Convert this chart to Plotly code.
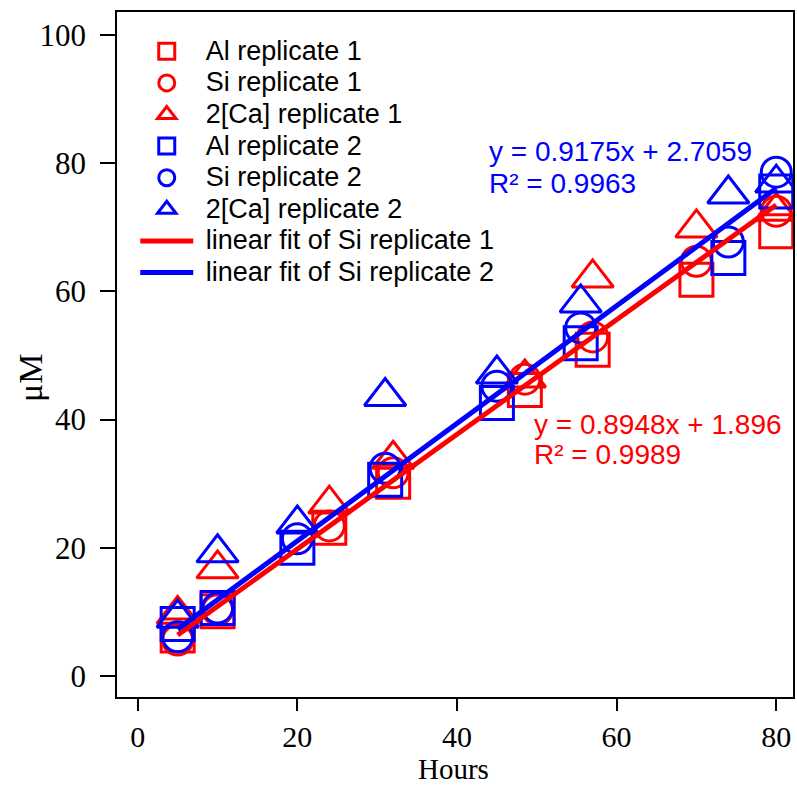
import plotly.graph_objects as go

# Replicate 1 (red)
x_r1 = [5, 10, 24, 32, 48.5, 57, 70, 80]
al_r1 = [6.3, 10.1, 23.1, 30.3, 44.6, 50.9, 61.8, 69.4]
si_r1 = [5.6, 10.3, 23.4, 31.7, 46.3, 52.9, 64.7, 72.5]
ca_r1 = [9.6, 16.7, 26.8, 33.8, 46.5, 62.1, 69.9, 72.5]

# Replicate 2 (blue)
x_r2 = [5, 10, 20, 31, 45, 55.5, 74, 80]
al_r2 = [8.1, 10.6, 20.0, 30.6, 42.6, 51.9, 65.2, 75.6]
si_r2 = [6.1, 10.6, 21.4, 32.4, 45.2, 54.3, 67.7, 78.6]
ca_r2 = [9.0, 19.2, 23.7, 43.6, 47.1, 58.2, 75.2, 76.9]

# Linear fits (slope, intercept, R2)
fit_r1 = (0.8948, 1.896, 0.9989)
fit_r2 = (0.9175, 2.7059, 0.9963)
fit_x = [5, 80]

x_title = "Hours"
y_title = "μM"

RED = "#FF0000"
BLUE = "#0000FF"
SANS = "Liberation Sans, Arial, sans-serif"
SERIF = "Liberation Serif, Times New Roman, serif"
LEG_SIZE = 27

def leg(name):
    return f'<span style="font-size:{LEG_SIZE}px">\u00a0{name}</span>'

fig = go.Figure()

def add_markers(x, y, name, color, symbol, size):
    fig.add_trace(go.Scatter(
        x=x, y=y, mode="markers", name=leg(name),
        marker=dict(symbol=symbol, size=size, color="rgba(0,0,0,0)",
                    line=dict(color=color, width=3)),
    ))

add_markers(x_r1, al_r1, "Al replicate 1", RED, "square", 33)
add_markers(x_r1, si_r1, "Si replicate 1", RED, "circle", 30)
add_markers(x_r1, ca_r1, "2[Ca] replicate 1", RED, "triangle-up", 36)
add_markers(x_r2, al_r2, "Al replicate 2", BLUE, "square", 33)
add_markers(x_r2, si_r2, "Si replicate 2", BLUE, "circle", 30)
add_markers(x_r2, ca_r2, "2[Ca] replicate 2", BLUE, "triangle-up", 36)

for fit, color, name in [(fit_r1, RED, "linear fit of Si replicate 1"),
                         (fit_r2, BLUE, "linear fit of Si replicate 2")]:
    m, b, _ = fit
    fig.add_trace(go.Scatter(
        x=fit_x, y=[m * v + b for v in fit_x], mode="lines", name=leg(name),
        line=dict(color=color, width=5),
    ))

def eq_annot(x, y1, y2, fit, color):
    lines = [f"y = {fit[0]}x + {fit[1]}", f"R² = {fit[2]}"]
    for yy, t in zip([y1, y2], lines):
        fig.add_annotation(
            x=x, y=yy, xref="x", yref="y", xanchor="left", yanchor="middle",
            text=t, showarrow=False, font=dict(family=SANS, size=28, color=color),
        )

eq_annot(43.75, 81.8, 76.9, fit_r2, BLUE)
eq_annot(49.4, 39.3, 34.5, fit_r1, RED)

# Axis titles
fig.add_annotation(
    x=0.4975, y=-0.1295, xref="paper", yref="paper", xanchor="center", yanchor="bottom",
    text=x_title, showarrow=False, borderpad=0,
    font=dict(family=SERIF, size=29, color="black"),
)
fig.add_annotation(
    x=-0.127, y=0.466, xref="paper", yref="paper", xanchor="center", yanchor="middle",
    text=y_title, textangle=-90, showarrow=False,
    font=dict(family=SERIF, size=34, color="black"),
)

axis_common = dict(
    showline=True, mirror=True, linecolor="black", linewidth=1.5,
    ticks="outside", tickwidth=1.5, tickcolor="black",
    showgrid=False, zeroline=False,
)

fig.update_layout(
    width=797, height=786,
    margin=dict(l=117, r=2, t=12, b=89),
    paper_bgcolor="white", plot_bgcolor="white",
    xaxis=dict(range=[-2.6, 82.1], tickvals=[0, 20, 40, 60, 80],
               ticklen=12, ticklabelstandoff=0,
               tickfont=dict(family=SERIF, size=30, color="black"), **axis_common),
    yaxis=dict(range=[-3.3, 103.6], tickvals=[0, 20, 40, 60, 80, 100],
               ticklen=15, ticklabelstandoff=8,
               tickfont=dict(family=SERIF, size=31, color="black"), **axis_common),
    legend=dict(x=0.027, y=0.973, xanchor="left", yanchor="top",
                bgcolor="rgba(0,0,0,0)", borderwidth=0, itemwidth=53,
                font=dict(family=SANS, size=22, color="black")),
    showlegend=True,
)

fig.write_html("out.html")
